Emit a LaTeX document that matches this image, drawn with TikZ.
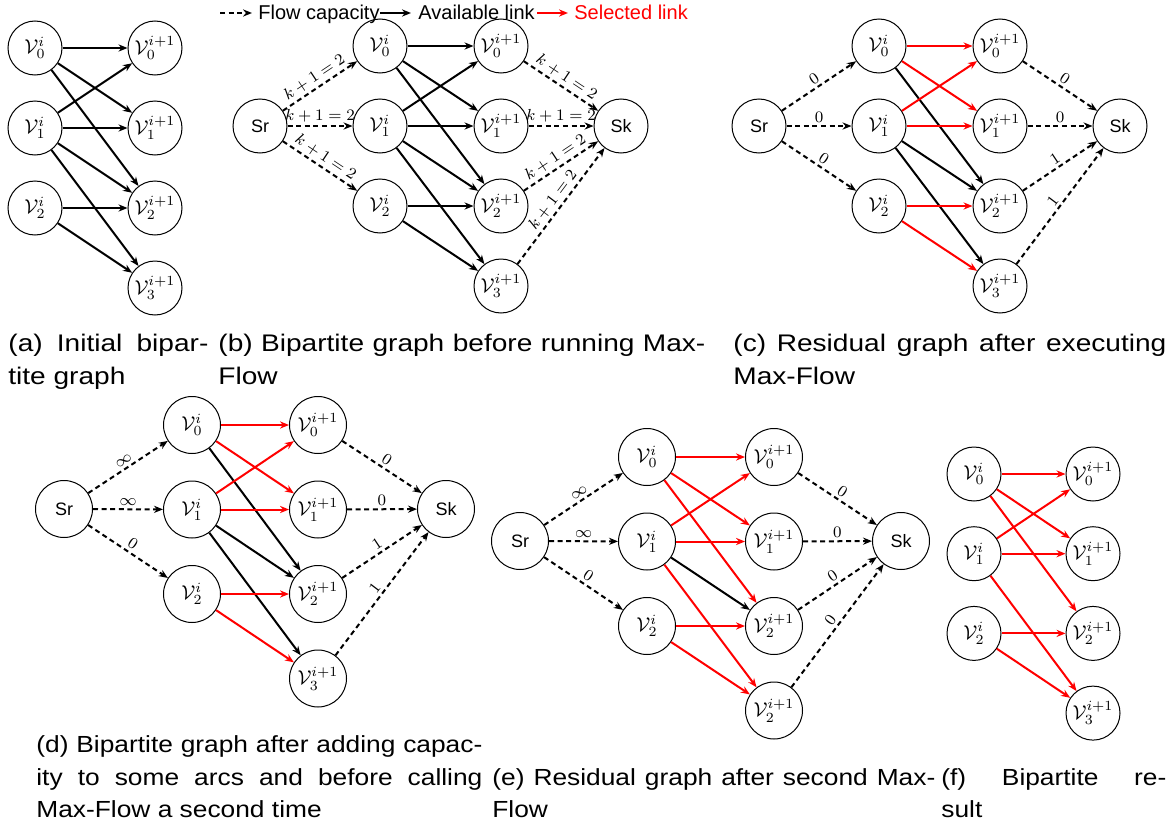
\documentclass[tikz,border=0pt]{standalone}
\usepackage{fontspec}
\newfontfamily\hv{Liberation Sans}
\newfontfamily\capf[FakeStretch=1.13]{Liberation Sans}
\newfontfamily\capg[FakeStretch=1.17]{Liberation Sans}
\usetikzlibrary{arrows.meta}
\newdimen\pxu \pxu=0.5pt
\newcommand\bipnodes[7]{%
  \node[#6] (#1l0) at (#2,#4) {$\mathcal{V}_0^i$};
  \node[#6] (#1l1) at (#2,{#4+#5}) {$\mathcal{V}_1^i$};
  \node[#6] (#1l2) at (#2,{#4+2*#5}) {$\mathcal{V}_2^i$};
  \node[#6] (#1r0) at (#3,#4) {$\mathcal{V}_0^{i+1}$};
  \node[#6] (#1r1) at (#3,{#4+#5}) {$\mathcal{V}_1^{i+1}$};
  \node[#6] (#1r2) at (#3,{#4+2*#5}) {$\mathcal{V}_2^{i+1}$};
  \node[#6] (#1r3) at (#3,{#4+3*#5}) {$\mathcal{V}_{#7}^{i+1}$};
}
\tikzset{
  vn/.style={circle,draw,line width=0.5pt,minimum size=27pt,inner sep=0pt},
  vnb/.style={vn,minimum size=28.5pt},
  srk/.style={vn,font=\hv\fontsize{9}{10}\selectfont},
  srkb/.style={vnb,font=\hv\fontsize{9}{10}\selectfont},
  blk/.style={line width=1pt,-{Stealth[length=4.5pt,width=3.6pt]}},
  sel/.style={blk,draw=red},
  flowe/.style={line width=1pt,dash pattern=on 2.5pt off 1.8pt,-{Stealth[length=4.5pt,width=3.6pt]}},
  lab/.style={midway,sloped,above,font=\footnotesize,inner sep=1.5pt},
  capt/.style={anchor=base west,inner sep=0pt,font=\capf\fontsize{11.65}{14}\selectfont},
  captop/.style={anchor=base west,inner sep=0pt,font=\capg\fontsize{12}{14}\selectfont},
  legt/.style={anchor=base west,inner sep=0pt,font=\hv\fontsize{10}{12}\selectfont},
}
\begin{document}
\begin{tikzpicture}[x=0.5pt,y=-0.5pt]
\fill[white] (0,0) rectangle (1173,819);
\useasboundingbox (0,0) rectangle (1173,819);

% legend
\coordinate (lg1a) at (220,13); \coordinate (lg1b) at (252,13);
\coordinate (lg2a) at (380,13); \coordinate (lg2b) at (411,13);
\coordinate (lg3a) at (537,13); \coordinate (lg3b) at (568,13);
\draw[flowe] (lg1a) -- (lg1b);
\node[legt] (lgt1) at (258,19) {Flow capacity};
\draw[blk] (lg2a) -- (lg2b);
\node[legt] (lgt2) at (418,19) {Available link};
\draw[sel] (lg3a) -- (lg3b);
\node[legt,text=red] (lgt3) at (574,19) {Selected link};

% (a)
\bipnodes{a}{35}{155}{48}{80}{vn}{3}
\draw[blk] (al0) -- (ar0);
\draw[blk] (al0) -- (ar1);
\draw[blk] (al0) -- (ar2);
\draw[blk] (al1) -- (ar0);
\draw[blk] (al1) -- (ar1);
\draw[blk] (al1) -- (ar2);
\draw[blk] (al1) -- (ar3);
\draw[blk] (al2) -- (ar2);
\draw[blk] (al2) -- (ar3);

% (b)
\node[srk] (bS) at (260,126) {Sr};
\bipnodes{b}{380}{501}{46}{80}{vn}{3}
\node[srk] (bK) at (621,126) {Sk};
\draw[blk] (bl0) -- (br0);
\draw[blk] (bl0) -- (br1);
\draw[blk] (bl0) -- (br2);
\draw[blk] (bl1) -- (br0);
\draw[blk] (bl1) -- (br1);
\draw[blk] (bl1) -- (br2);
\draw[blk] (bl1) -- (br3);
\draw[blk] (bl2) -- (br2);
\draw[blk] (bl2) -- (br3);
\draw[flowe] (bS) -- node[lab] {$k+1=2$} (bl0);
\draw[flowe] (bS) -- node[lab] {$k+1=2$} (bl1);
\draw[flowe] (bS) -- node[lab] {$k+1=2$} (bl2);
\draw[flowe] (br0) -- node[lab] {$k+1=2$} (bK);
\draw[flowe] (br1) -- node[lab] {$k+1=2$} (bK);
\draw[flowe] (br2) -- node[lab] {$k+1=2$} (bK);
\draw[flowe] (br3) -- node[lab] {$k+1=2$} (bK);

% (c)
\node[srk] (cS) at (759,126) {Sr};
\bipnodes{c}{879}{1000}{46}{80}{vn}{3}
\node[srk] (cK) at (1120,126) {Sk};
\draw[sel] (cl0) -- (cr0);
\draw[sel] (cl0) -- (cr1);
\draw[blk] (cl0) -- (cr2);
\draw[sel] (cl1) -- (cr0);
\draw[sel] (cl1) -- (cr1);
\draw[blk] (cl1) -- (cr2);
\draw[blk] (cl1) -- (cr3);
\draw[sel] (cl2) -- (cr2);
\draw[sel] (cl2) -- (cr3);
\draw[flowe] (cS) -- node[lab] {$0$} (cl0);
\draw[flowe] (cS) -- node[lab] {$0$} (cl1);
\draw[flowe] (cS) -- node[lab] {$0$} (cl2);
\draw[flowe] (cr0) -- node[lab] {$0$} (cK);
\draw[flowe] (cr1) -- node[lab] {$0$} (cK);
\draw[flowe] (cr2) -- node[lab] {$1$} (cK);
\draw[flowe] (cr3) -- node[lab] {$1$} (cK);

% (d)
\node[srkb] (dS) at (64,509) {Sr};
\bipnodes{d}{192}{318}{425}{84.5}{vnb}{3}
\node[srkb] (dK) at (446,509) {Sk};
\draw[sel] (dl0) -- (dr0);
\draw[sel] (dl0) -- (dr1);
\draw[blk] (dl0) -- (dr2);
\draw[sel] (dl1) -- (dr0);
\draw[sel] (dl1) -- (dr1);
\draw[blk] (dl1) -- (dr2);
\draw[blk] (dl1) -- (dr3);
\draw[sel] (dl2) -- (dr2);
\draw[sel] (dl2) -- (dr3);
\draw[flowe] (dS) -- node[lab] {$\infty$} (dl0);
\draw[flowe] (dS) -- node[lab] {$\infty$} (dl1);
\draw[flowe] (dS) -- node[lab] {$0$} (dl2);
\draw[flowe] (dr0) -- node[lab] {$0$} (dK);
\draw[flowe] (dr1) -- node[lab] {$0$} (dK);
\draw[flowe] (dr2) -- node[lab] {$1$} (dK);
\draw[flowe] (dr3) -- node[lab] {$1$} (dK);

% (e)
\node[srkb] (eS) at (520,541) {Sr};
\bipnodes{e}{647}{774}{457}{84.5}{vnb}{2}
\node[srkb] (eK) at (901,541) {Sk};
\draw[sel] (el0) -- (er0);
\draw[sel] (el0) -- (er1);
\draw[sel] (el0) -- (er2);
\draw[sel] (el1) -- (er0);
\draw[sel] (el1) -- (er1);
\draw[blk] (el1) -- (er2);
\draw[sel] (el1) -- (er3);
\draw[sel] (el2) -- (er2);
\draw[sel] (el2) -- (er3);
\draw[flowe] (eS) -- node[lab] {$\infty$} (el0);
\draw[flowe] (eS) -- node[lab] {$\infty$} (el1);
\draw[flowe] (eS) -- node[lab] {$0$} (el2);
\draw[flowe] (er0) -- node[lab] {$0$} (eK);
\draw[flowe] (er1) -- node[lab] {$0$} (eK);
\draw[flowe] (er2) -- node[lab] {$0$} (eK);
\draw[flowe] (er3) -- node[lab] {$0$} (eK);

% (f)
\bipnodes{f}{974}{1093}{474}{79.7}{vn}{3}
\draw[sel] (fl0) -- (fr0);
\draw[sel] (fl0) -- (fr1);
\draw[sel] (fl0) -- (fr2);
\draw[sel] (fl1) -- (fr0);
\draw[sel] (fl1) -- (fr1);
\draw[sel] (fl1) -- (fr3);
\draw[sel] (fl2) -- (fr2);
\draw[sel] (fl2) -- (fr3);

% captions
\node[captop] (ca1) at (8,351) {\hbox to 200\pxu{(a) Initial bipar-}};
\node[captop] (ca2) at (8,384) {tite graph};
\node[captop] (cb1) at (218,351) {\hbox to 487\pxu{(b) Bipartite graph before running Max-}};
\node[captop] (cb2) at (218,384) {Flow};
\node[captop] (cc1) at (733,351) {\hbox to 433\pxu{(c) Residual graph after executing}};
\node[captop] (cc2) at (733,384) {Max-Flow};
\node[capt] (cd1) at (36,752) {\hbox to 446\pxu{(d) Bipartite graph after adding capac-}};
\node[capt] (cd2) at (36,785) {\hbox to 446\pxu{ity to some arcs and before calling}};
\node[capt] (cd3) at (36,817) {Max-Flow a second time};
\node[capt] (ce1) at (492,785) {\hbox to 443\pxu{(e) Residual graph after second Max-}};
\node[capt] (ce2) at (492,817) {Flow};
\node[capt] (cf1) at (941,785) {\hbox to 225\pxu{(f) Bipartite re-}};
\node[capt] (cf2) at (941,817) {sult};
\end{tikzpicture}
\end{document}
